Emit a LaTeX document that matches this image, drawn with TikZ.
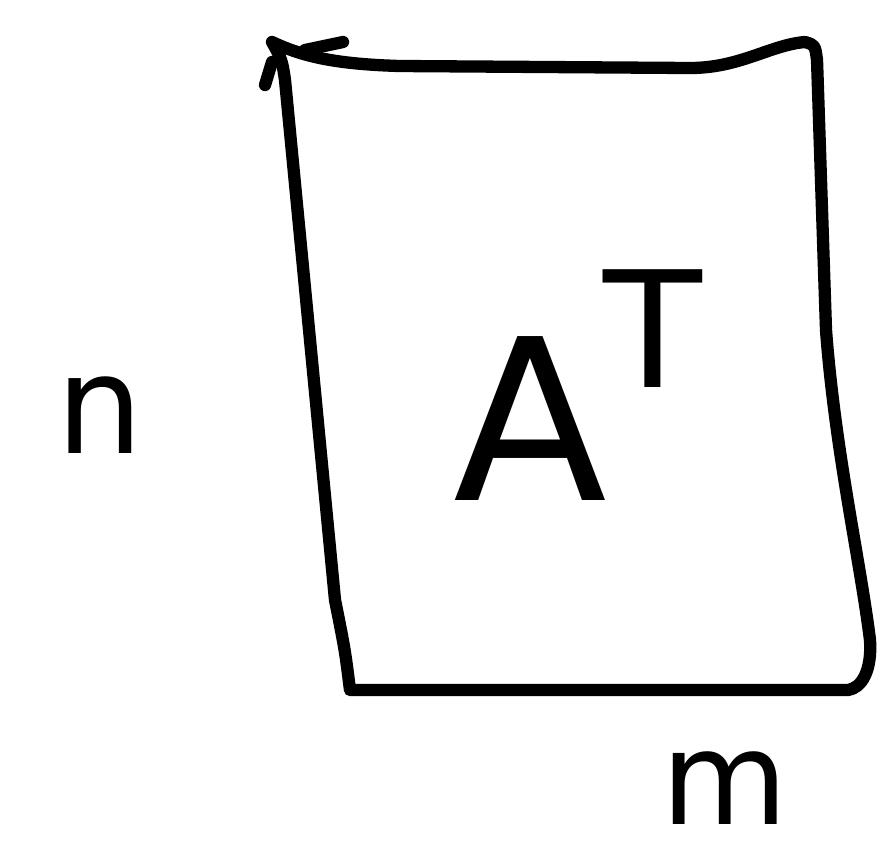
\documentclass[tikz,border=0pt]{standalone}
\usepackage{fontspec}
\setsansfont{DejaVu Sans}
\usetikzlibrary{positioning}

\begin{document}
\begin{tikzpicture}[x=0.02cm, y=-0.02cm,
  pen/.style={line width=7pt, line cap=round, line join=round},
  hand/.style={font=\sffamily, inner sep=0pt}]
\useasboundingbox (0,0) rectangle (882,860);
% the matrix sheet
\draw[pen] (272,42) .. controls (300,55) and (330,64) .. (400,66)
  -- (690,68) .. controls (740,68) and (770,45) .. (805,42)
  .. controls (815,45) .. (817,60) -- (826,330)
  .. controls (835,450) and (860,560) .. (870,640)
  .. controls (872,670) and (862,688) .. (848,690)
  -- (350,690) .. controls (345,650) .. (335,600)
  -- (285,80) .. controls (282,60) .. (272,42);
\draw[pen] (265,85) -- (272,62);
\draw[pen] (305,50) -- (343,42);
% labels
\node[hand, font=\sffamily\fontsize{128}{128}\selectfont] (mat) at (578,385)
  {A\kern-2pt\raisebox{0.5em}{\fontsize{92}{92}\selectfont T}};
\node[hand, font=\sffamily\fontsize{78}{78}\selectfont] (rows) at (100,415) {n};
\node[hand, font=\sffamily\fontsize{74}{74}\selectfont] (cols) at (725,788) {m};
\end{tikzpicture}
\end{document}
